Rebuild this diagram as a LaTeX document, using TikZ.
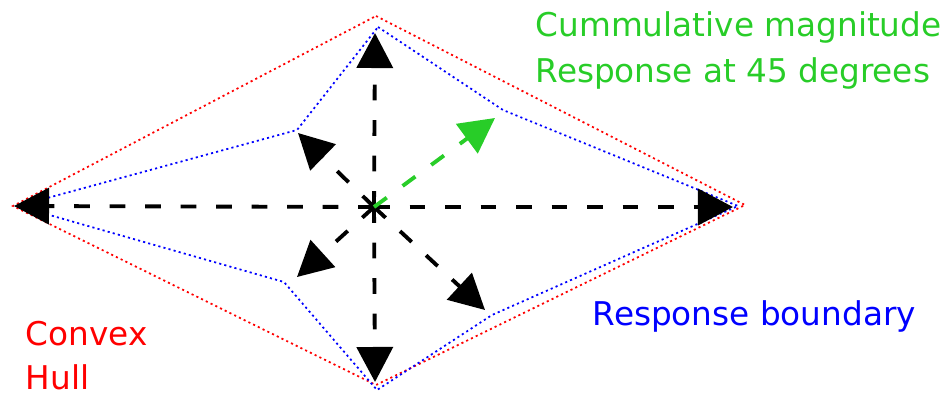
\documentclass[tikz,border=0pt]{standalone}
\usepackage{fontspec}
\setmainfont{DejaVu Sans}
\usetikzlibrary{arrows.meta}
\definecolor{respgreen}{RGB}{40,205,40}
\tikzset{
	hull/.style={red,line width=0.5pt,dash pattern=on 0.6pt off 0.9pt},
	boundary/.style={blue,line width=0.5pt,dash pattern=on 0.6pt off 0.9pt},
	resp/.style={line width=1.1pt,dash pattern=on 4.5pt off 5.6pt,-{Triangle[length=3.5mm,width=3.6mm]}},
	lbl/.style={anchor=base west,inner sep=0pt,align=left,font=\fontsize{9.3}{12.8}\selectfont}
}
\begin{document}
\begin{tikzpicture}[x=0.01cm,y=-0.01cm]
			\useasboundingbox (0,0) rectangle (943,394);
			\coordinate (O) at (374,207);
			% convex hull
			\coordinate (H1) at (376,16);
			\coordinate (H2) at (745,205);
			\coordinate (H3) at (376,385);
			\coordinate (H4) at (13,206);
			% response boundary
			\coordinate (B1) at (378,27);
			\coordinate (B2) at (503,110);
			\coordinate (B3) at (738,206);
			\coordinate (B4) at (492,315);
			\coordinate (B5) at (377,390);
			\coordinate (B6) at (284,282);
			\coordinate (B7) at (18,206);
			\coordinate (B8) at (297,130);
			% responses
			\coordinate (R1) at (375,33);
			\coordinate (R2) at (298,133);
			\coordinate (R3) at (14,206);
			\coordinate (R4) at (297,277);
			\coordinate (R5) at (375,382);
			\coordinate (R6) at (485,310);
			\coordinate (R7) at (733,207);
			\coordinate (G) at (495,118);
			
			\draw[hull] (H1)--(H2)--(H3)--(H4)--cycle;
			\draw[boundary] (B1)--(B2)--(B3)--(B4)--(B5)--(B6)--(B7)--(B8)--cycle;
			
			\foreach \r in {R1,R2,R3,R4,R5,R6,R7}
			\draw[resp] (O)--(\r);
			\draw[resp,respgreen] (O)--(G);
			
			% base anchor sits on the last line
			\node[lbl,text=respgreen] (cumul) at (535,82) {Cummulative magnitude\\Response at 45 degrees};
			\node[lbl,text=blue] (bound) at (592,325) {Response boundary};
			\node[lbl,text=red,font=\fontsize{9.3}{12.5}\selectfont] (convex) at (25,389) {Convex\\Hull};
		\end{tikzpicture}
\end{document}
